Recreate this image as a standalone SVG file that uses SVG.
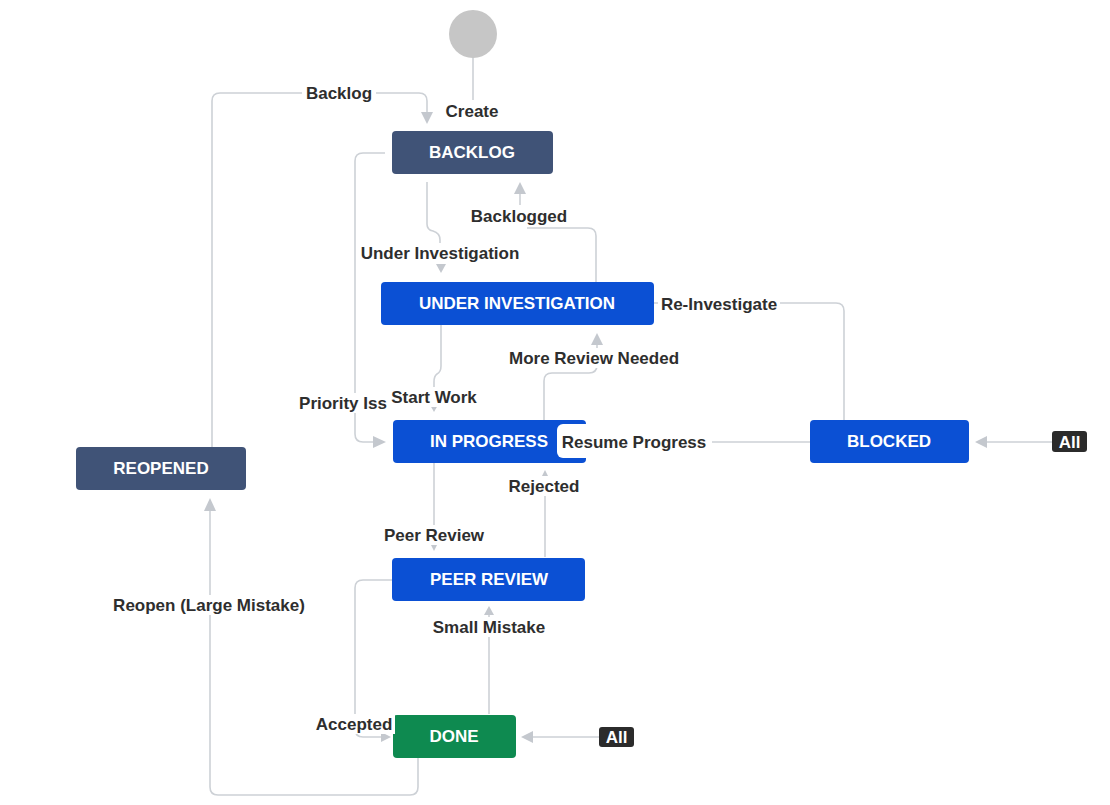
<svg xmlns="http://www.w3.org/2000/svg" width="1110" height="805" viewBox="0 0 1110 805">
<style>
.c{fill:none;stroke:#cdd1d6;stroke-width:1.6}
.a{fill:#c4c8ce}
.n{stroke:none}
.dk{fill:#405377}
.bl{fill:#0b50d4}
.gr{fill:#0e8a50}
.nt{font-family:"Liberation Sans",Arial,sans-serif;font-weight:bold;font-size:17px;fill:#ffffff;text-anchor:middle}
.lb{font-family:"Liberation Sans",Arial,sans-serif;font-weight:bold;font-size:17px;fill:#2e2e2e;text-anchor:middle}
.bg{fill:#ffffff}
.bd{fill:#2b2b2b}
</style>
<rect width="1110" height="805" fill="#ffffff"/>
<g id="connectors">
<path class="c" d="M473 57 V100"/>
<path class="c" d="M212 447 V101 Q212 93 220 93 H419 Q427 93 427 101 V113"/>
<polygon class="a" points="421,112 433,112 427,124"/>
<path class="c" d="M385 153 H363 Q355 153 355 161 V434 Q355 442 363 442 H374"/>
<polygon class="a" points="373,436 373,448 386,442"/>
<path class="c" d="M427 182 V224 Q427 230 433 231 Q440 233 440 240 V263"/>
<polygon class="a" points="436,264 446,264 441,273"/>
<path class="c" d="M596 282 V236 Q596 228 588 228 H527"/>
<path class="c" d="M520 205 V193"/>
<polygon class="a" points="514,194 526,194 520,182"/>
<path class="c" d="M844 420 V311 Q844 303 836 303 H654"/>
<path class="c" d="M441 325 V366 Q441 372 437 374 Q434 376 434 382 V404"/>
<polygon class="a" points="430,405 438,405 434,412"/>
<path class="c" d="M544 420 V381 Q544 373 552 373 H589 Q597 373 597 365 V345"/>
<polygon class="a" points="591,345 603,345 597,333"/>
<path class="c" d="M810 442 H586"/>
<path class="c" d="M545 557 V478"/>
<polygon class="a" points="541,478 549,478 545,470"/>
<path class="c" d="M434 463 V545"/>
<polygon class="a" points="431,545 437,545 434,551"/>
<path class="c" d="M489 714 V614"/>
<polygon class="a" points="484,615 494,615 489,606"/>
<path class="c" d="M392 580 H363 Q355 580 355 588 V729 Q355 737 363 737 H383"/>
<polygon class="a" points="381,732 381,742 391,737"/>
<path class="c" d="M418 758 V787 Q418 795 410 795 H218 Q210 795 210 787 V510"/>
<polygon class="a" points="204,511 216,511 210,498"/>
<path class="c" d="M1052 442 H986"/>
<polygon class="a" points="987,436 987,448 975,442"/>
<path class="c" d="M600 737 H533"/>
<polygon class="a" points="533,731 533,743 521,737"/>
</g>
<g id="start">
<circle cx="473" cy="34" r="24" fill="#c6c6c6"/>
</g>
<g id="backlog">
<rect class="dk" x="392" y="131" width="161" height="43" rx="4"/>
<text class="nt" x="472" y="158">BACKLOG</text>
</g>
<g id="under-investigation">
<rect class="bl" x="381" y="282" width="273" height="43" rx="4"/>
<text class="nt" x="517" y="309">UNDER INVESTIGATION</text>
</g>
<g id="in-progress">
<rect class="bl" x="393" y="420" width="193" height="43" rx="4"/>
<text class="nt" x="489" y="447">IN PROGRESS</text>
</g>
<g id="blocked">
<rect class="bl" x="810" y="420" width="159" height="43" rx="4"/>
<text class="nt" x="889" y="447">BLOCKED</text>
</g>
<g id="reopened">
<rect class="dk" x="76" y="447" width="170" height="43" rx="4"/>
<text class="nt" x="161" y="474">REOPENED</text>
</g>
<g id="peer-review">
<rect class="bl" x="392" y="558" width="193" height="43" rx="4"/>
<text class="nt" x="489" y="585">PEER REVIEW</text>
</g>
<g id="done">
<rect class="gr" x="393" y="715" width="123" height="43" rx="4"/>
<text class="nt" x="454" y="742">DONE</text>
</g>
<g id="all-blocked">
<rect class="bd" x="1052" y="431" width="35" height="21" rx="3"/>
<text class="nt" x="1069.5" y="448">All</text>
</g>
<g id="all-done">
<rect class="bd" x="599" y="727" width="35" height="20" rx="3"/>
<text class="nt" x="616.5" y="743">All</text>
</g>
<g id="labels">
<rect class="bg" x="443" y="101" width="58" height="20"/>
<text class="lb" x="472" y="117">Create</text>
<rect class="bg" x="302" y="83" width="74" height="20"/>
<text class="lb" x="339" y="99">Backlog</text>
<rect class="bg" x="297" y="393" width="92" height="20"/>
<text class="lb" x="343" y="409">Priority Iss</text>
<rect class="bg" x="357" y="243" width="166" height="20"/>
<text class="lb" x="440" y="259">Under Investigation</text>
<rect class="bg" x="467" y="205" width="104" height="21"/>
<text class="lb" x="519" y="222">Backlogged</text>
<rect class="bg" x="658" y="294" width="122" height="20"/>
<text class="lb" x="719" y="310">Re-Investigate</text>
<rect class="bg" x="389" y="387" width="90" height="20"/>
<text class="lb" x="434" y="403">Start Work</text>
<rect class="bg" x="505" y="348" width="178" height="20"/>
<text class="lb" x="594" y="364">More Review Needed</text>
<rect class="bg" x="557" y="424" width="155" height="34" rx="6"/>
<text class="lb" x="634" y="448">Resume Progress</text>
<rect class="bg" x="505" y="476" width="78" height="20"/>
<text class="lb" x="544" y="492">Rejected</text>
<rect class="bg" x="381" y="525" width="106" height="20"/>
<text class="lb" x="434" y="541">Peer Review</text>
<rect class="bg" x="430" y="617" width="118" height="20"/>
<text class="lb" x="489" y="633">Small Mistake</text>
<rect class="bg" x="313" y="714" width="82" height="20"/>
<text class="lb" x="354" y="730">Accepted</text>
<rect class="bg" x="109" y="595" width="200" height="20"/>
<text class="lb" x="209" y="611">Reopen (Large Mistake)</text>
</g>
</svg>
